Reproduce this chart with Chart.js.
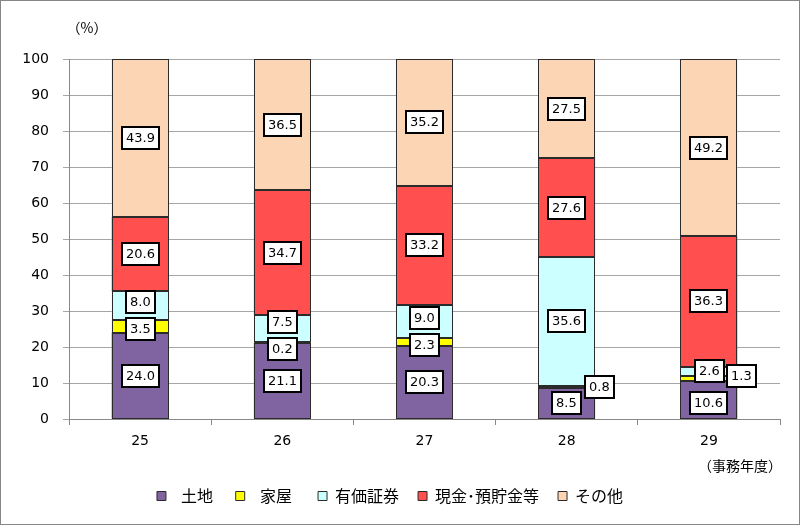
<!DOCTYPE html>
<html>
<head>
<meta charset="utf-8">
<script src="https://cdn.jsdelivr.net/npm/chart.js@4/dist/chart.umd.min.js"></script>
<style>
  body { margin: 0; background: #fff; }
  #wrap { width: 800px; height: 525px; }
</style>
</head>
<body>
<div id="wrap"><canvas id="bar-chart" width="800" height="525"></canvas></div>
<script>
// 事務年度
var categories = ['25', '26', '27', '28', '29'];
var seriesNames = ['  土地 ', '  家屋  ', '有価証券', '現金･預貯金等', 'その他'];
var landValues = [24.0, 21.1, 20.3, 8.5, 10.6];
var houseValues = [3.5, 0.2, 2.3, 0.8, 1.3];
var securitiesValues = [8.0, 7.5, 9.0, 35.6, 2.6];
var cashValues = [20.6, 34.7, 33.2, 27.6, 36.3];
var otherValues = [43.9, 36.5, 35.2, 27.5, 49.2];
var yTicks = [0, 10, 20, 30, 40, 50, 60, 70, 80, 90, 100];

var colors = ['#8064A2', '#FFFF00', '#CCFFFF', '#FF4F4F', '#FCD5B5'];
var allValues = [landValues, houseValues, securitiesValues, cashValues, otherValues];

var numFont = '"DejaVu Sans", Verdana, sans-serif';
var jpFont = '"Noto Sans CJK JP", sans-serif';

// labels that sit beside the bar instead of inside (dataset-category)
var sideLabels = { '1-3': true, '1-4': true };

// outline each bar segment crisply
var barOutlines = {
  id: 'barOutlines',
  afterDatasetsDraw: function(chart) {
    var ctx = chart.ctx;
    ctx.save();
    ctx.strokeStyle = '#2b2b2b';
    ctx.lineWidth = 1;
    chart.data.datasets.forEach(function(ds, d) {
      chart.getDatasetMeta(d).data.forEach(function(bar) {
        var l = Math.round(bar.x - bar.width / 2) + 0.5;
        var r = Math.round(bar.x + bar.width / 2) - 0.5;
        var t = Math.round(bar.y) + 0.5;
        var b = Math.round(bar.base) - 0.5;
        ctx.strokeRect(l, t, r - l, b - t);
      });
    });
    ctx.restore();
  }
};

// value boxes
var boxLabels = {
  id: 'boxLabels',
  afterDatasetsDraw: function(chart) {
    var ctx = chart.ctx;
    ctx.save();
    ctx.font = '13px ' + numFont;
    for (var i = 0; i < categories.length; i++) {
      var boxes = [];
      chart.data.datasets.forEach(function(ds, d) {
        var bar = chart.getDatasetMeta(d).data[i];
        var v = ds.data[i];
        var txt = v.toFixed(1);
        var w = ctx.measureText(txt).width + 8;
        var h = 22;
        var cx = bar.x;
        var cy = (bar.y + bar.base) / 2;
        if (sideLabels[d + '-' + i]) {
          cx = bar.x + bar.width / 2 - 10 + w / 2;
        }
        boxes.push({txt: txt, cx: cx, cy: cy, w: w, h: h});
      });
      // push overlapping boxes apart
      for (var it = 0; it < 10; it++) {
        for (var a = 0; a < boxes.length; a++) {
          for (var b = a + 1; b < boxes.length; b++) {
            var A = boxes[a], B = boxes[b];
            if (Math.abs(A.cx - B.cx) * 2 >= A.w + B.w) continue;
            var need = (A.h + B.h) / 2 + 5;
            var dy = Math.abs(A.cy - B.cy);
            if (dy < need) {
              var m = (need - dy) / 2;
              if (A.cy > B.cy) { A.cy += m; B.cy -= m; } else { A.cy -= m; B.cy += m; }
            }
          }
        }
      }
      boxes.forEach(function(bx) {
        var x = Math.round(bx.cx - bx.w / 2), y = Math.round(bx.cy - bx.h / 2);
        ctx.fillStyle = '#fff';
        ctx.fillRect(x, y, Math.round(bx.w), bx.h);
        ctx.lineWidth = 2;
        ctx.strokeStyle = '#000';
        ctx.strokeRect(x, y, Math.round(bx.w), bx.h);
        ctx.fillStyle = '#000';
        ctx.textAlign = 'center';
        ctx.textBaseline = 'middle';
        ctx.fillText(bx.txt, x + bx.w / 2, y + bx.h / 2 + 1);
      });
    }
    ctx.restore();
  }
};

var extras = {
  id: 'extras',
  afterDraw: function(chart) {
    var ctx = chart.ctx;
    ctx.save();
    ctx.font = '14px ' + jpFont;
    ctx.fillStyle = '#000';
    ctx.textAlign = 'center';
    ctx.textBaseline = 'middle';
    ctx.fillText('（%）', 87, 28);
    ctx.fillText('（事務年度）', 740, 466);
    ctx.strokeStyle = '#868686';
    ctx.lineWidth = 1;
    ctx.strokeRect(0.5, 0.5, 799, 524);
    ctx.restore();
  }
};

new Chart(document.getElementById('bar-chart'), {
  type: 'bar',
  data: {
    labels: categories,
    datasets: seriesNames.map(function(name, k) {
      return {
        label: name,
        data: allValues[k],
        backgroundColor: colors[k],
        borderColor: '#2b2b2b',
        borderWidth: 0,
        barPercentage: 1,
        categoryPercentage: 0.4
      };
    })
  },
  options: {
    responsive: false,
    animation: false,
    layout: { padding: { left: 0, right: 20, top: 59, bottom: 11 } },
    plugins: {
      legend: {
        position: 'bottom',
        labels: {
          boxWidth: 9,
          boxHeight: 9,
          padding: 19,
          color: '#000',
          font: { family: jpFont, size: 16 },
          generateLabels: function(chart) {
            return Chart.defaults.plugins.legend.labels.generateLabels(chart).map(function(it) {
              it.lineWidth = 1;
              it.strokeStyle = '#2b2b2b';
              return it;
            });
          }
        }
      },
      tooltip: { enabled: false },
      title: { display: false }
    },
    scales: {
      x: {
        stacked: true,
        afterFit: function(s) { s.height = 50; },
        grid: { drawOnChartArea: false, color: '#898989', tickLength: 6, offset: true },
        border: { color: '#898989' },
        ticks: { color: '#000', padding: 8, font: { family: numFont, size: 14 } }
      },
      y: {
        stacked: true,
        min: 0,
        max: 100,
        afterFit: function(s) { s.width = 69; },
        afterBuildTicks: function(s) { s.ticks = yTicks.map(function(v) { return {value: v}; }); },
        grid: { color: '#a6a6a6', tickLength: 6 },
        border: { color: '#898989' },
        ticks: { color: '#000', padding: 14, font: { family: numFont, size: 14 } }
      }
    }
  },
  plugins: [barOutlines, boxLabels, extras]
});
</script>
</body>
</html>
